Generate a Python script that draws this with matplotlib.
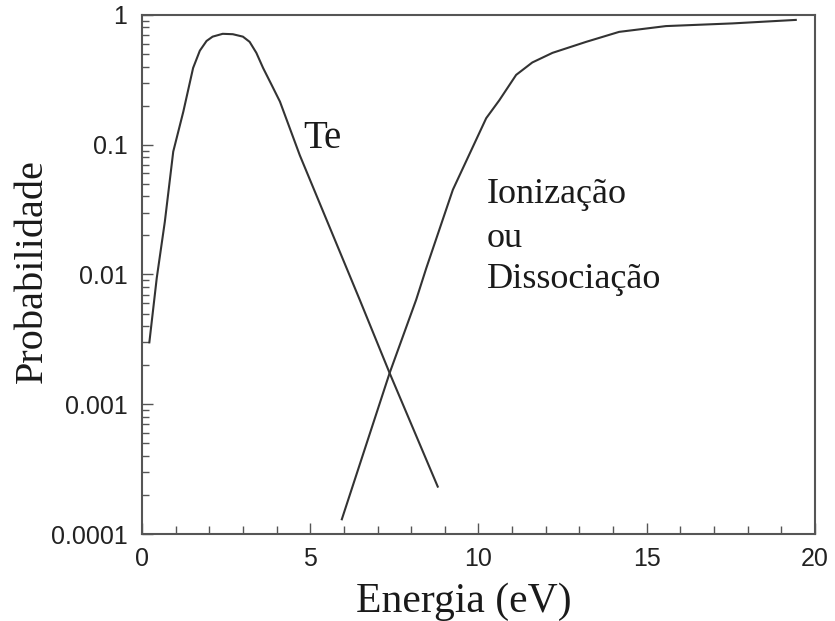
import matplotlib.pyplot as plt
from matplotlib.ticker import FixedLocator, FixedFormatter, LogLocator, NullFormatter

# Te distribution (energy in eV, probability)
te_x = [0.22, 0.44, 0.68, 0.93, 1.23, 1.52, 1.72, 1.92, 2.1, 2.4, 2.7, 3.0, 3.2, 3.4, 3.6, 3.85, 4.1,
        4.69, 6.47, 7.36, 8.79]
te_y = [0.003, 0.0094, 0.0255, 0.0885, 0.18, 0.39, 0.53, 0.63, 0.68, 0.715, 0.71, 0.68, 0.62, 0.51,
        0.39, 0.29, 0.215, 0.083, 0.0064, 0.00174, 0.000232]

# ionization / dissociation probability
ion_x = [5.94, 7.36, 8.15, 8.45, 9.24, 10.23, 10.62, 11.12, 11.6, 12.2, 13.2, 14.18, 15.57, 17.55, 19.43]
ion_y = [0.00013, 0.00174, 0.0064, 0.0112, 0.045, 0.16, 0.22, 0.345, 0.43, 0.51, 0.62, 0.74, 0.82,
         0.86, 0.915]

yticks = [1e-4, 1e-3, 1e-2, 1e-1, 1]
ytick_labels = ['0.0001', '0.001', '0.01', '0.1', '1']
xticks = [0, 5, 10, 15, 20]

serif = ['Liberation Serif', 'DejaVu Serif']
sans = ['Liberation Sans', 'DejaVu Sans']
axcol = '#555555'
txtcol = '#1a1a1a'

fig = plt.figure(figsize=(8.35, 6.21), dpi=100)
ax = fig.add_axes([0.170, 0.140, 0.806, 0.836])

ax.plot(te_x, te_y, color='#333333', lw=1.5)
ax.plot(ion_x, ion_y, color='#333333', lw=1.5)

ax.set_yscale('log')
ax.set_xlim(0, 20)
ax.set_ylim(1e-4, 1)

ax.yaxis.set_major_locator(FixedLocator(yticks))
ax.yaxis.set_major_formatter(FixedFormatter(ytick_labels))
ax.yaxis.set_minor_locator(LogLocator(base=10, subs=range(2, 10)))
ax.yaxis.set_minor_formatter(NullFormatter())
ax.set_xticks(xticks)
ax.set_xticks(range(0, 21), minor=True)

for s in ax.spines.values():
    s.set_color(axcol)
    s.set_linewidth(1.5)

ax.tick_params(which='major', direction='in', length=8, width=1, color=axcol,
               labelsize=18, labelcolor='#222222')
ax.tick_params(axis='y', which='major', pad=10.5)
ax.tick_params(axis='x', which='major', pad=9)
ax.tick_params(which='minor', direction='in', length=5, width=1, color=axcol)
ax.tick_params(axis='x', which='minor', length=6)
for lab in ax.get_xticklabels() + ax.get_yticklabels():
    lab.set_family(sans)

ax.set_xlabel('Energia (eV)', fontsize=30, family=serif, color=txtcol)
ax.set_ylabel('Probabilidade', fontsize=29, family=serif, color=txtcol)
ax.xaxis.set_label_coords(0.478, -0.094)
ax.yaxis.set_label_coords(-0.136, 0.506)

ax.text(4.8, 0.095, 'Te', fontsize=28, family=serif, color=txtcol, ha='left', va='baseline')
for line, yb in zip(['Ionização', 'ou', 'Dissociação'], [0.0356, 0.0163, 0.0079]):
    ax.text(10.25, yb, line, fontsize=26, family=serif, color=txtcol, ha='left', va='baseline')

fig.savefig('out.png', dpi=100)
